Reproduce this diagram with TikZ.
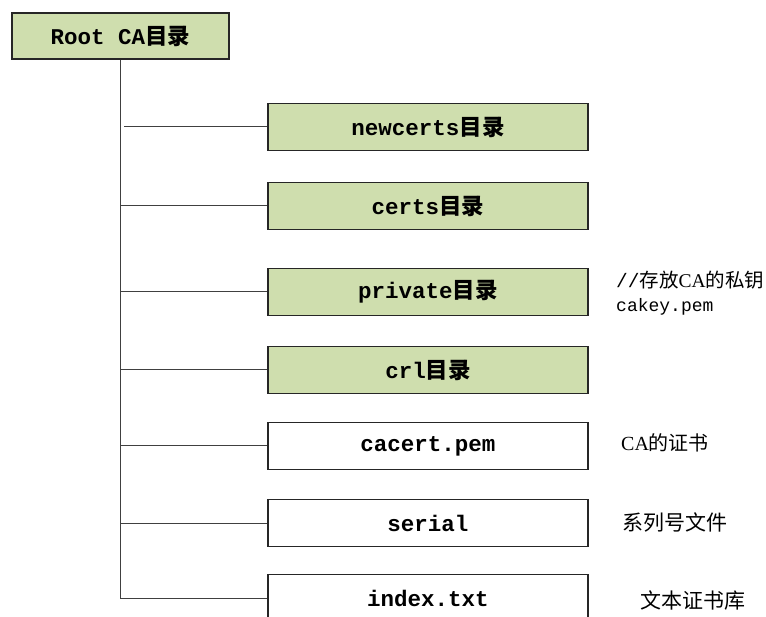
\documentclass[tikz,border=0pt]{standalone}
\usepackage{fontspec}
\setmainfont{Liberation Serif}
\setmonofont{Liberation Mono}
\newfontfamily\cjk{Noto Sans CJK SC}
\newcommand\bx[2]{{\ttfamily\bfseries #1}{\cjk\bfseries #2}}
\definecolor{boxgreen}{RGB}{207,222,174}
\begin{document}
\begin{tikzpicture}[x=1pt,y=-1pt,
  box/.style={draw=black!85, line width=1.2pt, minimum width=320pt, minimum height=47pt,
    inner sep=0pt, font=\fontsize{22.5}{26}\selectfont},
  greenbox/.style={box, fill=boxgreen},
  conn/.style={draw=black!75, line width=1pt},
  note/.style={anchor=west, align=left, inner sep=0pt, font=\fontsize{18.5}{24}\selectfont}]
\clip (0,0) rectangle (766,617);
\fill[white] (0,0) rectangle (766,617);
% root
\node[greenbox, minimum width=217pt, minimum height=46pt] (root) at (120.5,36) {\bx{Root CA}{目录}};
% children
\node[greenbox] (newcerts) at (428,127) {\bx{newcerts}{目录}};
\node[greenbox] (certs)    at (428,206) {\bx{certs}{目录}};
\node[greenbox] (private)  at (428,292) {\bx{private}{目录}};
\node[greenbox] (crl)      at (428,370) {\bx{crl}{目录}};
\node[box]      (cacert)   at (428,446) {\bx{cacert.pem}{}};
\node[box]      (serial)   at (428,523) {\bx{serial}{}};
\node[box]      (index)    at (428,598) {\bx{index.txt}{}};
% trunk
\coordinate (tb) at (root.south |- index.west);
\draw[conn] (root.south) -- (tb) -- (index.west);
\draw[conn] ([xshift=3.5pt]newcerts.west -| tb) -- (newcerts.west);
\foreach \n in {certs,private,crl,cacert,serial}
  \draw[conn] (\n.west -| tb) -- (\n.west);
% notes
\node[note, font=\fontsize{19.5}{24}\selectfont] (n1) at (616,293) {{\ttfamily //}{\cjk 存放}CA{\cjk 的私钥}\\{\ttfamily\fontsize{18}{24}\selectfont cakey.pem}};
\node[note, font=\fontsize{20}{24}\selectfont] (n2) at (621,443) {CA{\cjk 的证书}};
\node[note, font=\fontsize{21}{24}\selectfont] (n3) at (622,522) {{\cjk 系列号文件}};
\node[note, font=\fontsize{21}{24}\selectfont] (n4) at (640,600) {{\cjk 文本证书库}};
\end{tikzpicture}
\end{document}
